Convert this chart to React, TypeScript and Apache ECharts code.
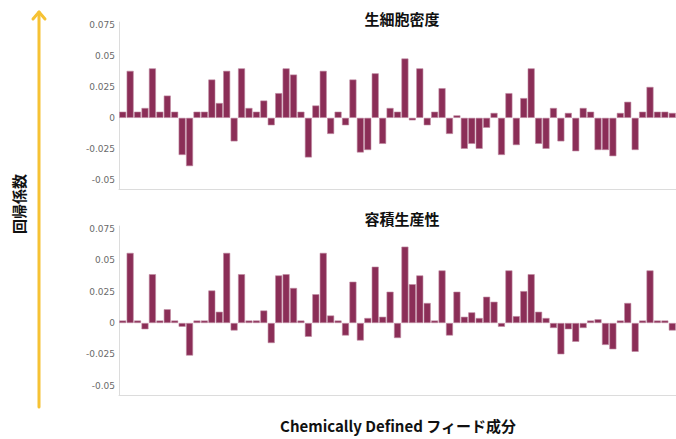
import React, { useEffect, useRef } from "react";
import * as echarts from "echarts";

// Regression coefficients per chemically defined feed component
const cellDensity = [
  0.005, 0.038, 0.005, 0.008, 0.04, 0.005, 0.018, 0.005, -0.03, -0.039,
  0.005, 0.005, 0.031, 0.012, 0.038, -0.019, 0.04, 0.008, 0.005, 0.014,
  -0.006, 0.02, 0.04, 0.035, 0.005, -0.032, 0.01, 0.038, -0.013, 0.005,
  -0.006, 0.031, -0.028, -0.026, 0.036, -0.021, 0.008, 0.005, 0.048, -0.002,
  0.04, -0.006, 0.005, 0.024, -0.013, 0.002, -0.025, -0.021, -0.025, -0.008,
  0.004, -0.03, 0.02, -0.022, 0.016, 0.04, -0.021, -0.025, 0.008, -0.019,
  0.004, -0.027, 0.008, 0.005, -0.026, -0.026, -0.031, 0.004, 0.013, -0.026,
  0.005, 0.025, 0.005, 0.005, 0.004,
];

const productivity = [
  0.002, 0.056, 0.002, -0.005, 0.039, 0.002, 0.011, 0.002, -0.003, -0.026,
  0.002, 0.002, 0.026, 0.009, 0.056, -0.006, 0.039, 0.002, 0.002, 0.01,
  -0.016, 0.038, 0.039, 0.028, 0.002, -0.011, 0.023, 0.056, 0.006, 0.002,
  -0.01, 0.033, -0.014, 0.004, 0.045, 0.005, 0.025, -0.012, 0.061, 0.031,
  0.038, 0.016, 0.002, 0.042, -0.01, 0.025, 0.005, 0.0085, 0.004, 0.021,
  0.017, -0.003, 0.042, 0.0055, 0.0255, 0.039, 0.009, 0.004, -0.004, -0.025,
  -0.005, -0.015, -0.004, 0.002, 0.003, -0.0175, -0.021, 0.002, 0.016, -0.023,
  0.002, 0.042, 0.002, 0.002, -0.006,
];

const components = cellDensity.map((_, i) => `CD-${i + 1}`);
const yTicks = [-0.05, -0.025, 0, 0.025, 0.05, 0.075];
const panelTitles = ["生細胞密度", "容積生産性"];
const xTitle = "Chemically Defined フィード成分";
const yTitle = "回帰係数";

const BAR = "#8b2e57";
const AXIS = "#dcdcdc";
const ARROW = "#f6c234";
const CJK = "'Noto Sans CJK JP', 'Noto Sans', sans-serif";

const grids = [
  { left: 119, right: 0, top: 22, height: 167 },
  { left: 119, right: 0, top: 226, height: 169 },
];

function tickText(v: number): string {
  const hit = yTicks.find((t) => Math.abs(t - v) < 1e-6);
  if (hit === undefined) return "";
  return String(Math.round(hit * 1000) / 1000);
}

export default function App() {
  const ref = useRef<HTMLDivElement | null>(null);

  useEffect(() => {
    if (!ref.current) return;
    const chart = echarts.init(ref.current, undefined, { renderer: "svg" });
    const seriesData = [cellDensity, productivity];

    chart.setOption({
      animation: false,
      backgroundColor: "#ffffff",
      grid: grids,
      xAxis: grids.map((_, i) => ({
        type: "category",
        gridIndex: i,
        data: components,
        axisLine: { show: true, onZero: false, lineStyle: { color: AXIS, width: 1 } },
        axisTick: { show: false },
        axisLabel: { show: false },
        splitLine: { show: false },
      })),
      yAxis: grids.map((_, i) => ({
        type: "value",
        gridIndex: i,
        min: -0.0575,
        max: 0.0775,
        interval: 0.0025,
        axisLine: { show: true, lineStyle: { color: AXIS, width: 1 } },
        axisTick: { show: false },
        splitLine: { show: false },
        axisLabel: {
          show: true,
          margin: 4,
          fontFamily: "'DejaVu Sans', sans-serif",
          fontSize: 9,
          color: "#6a6a6a",
          formatter: (v: number) => tickText(v),
        },
      })),
      series: seriesData.map((data, i) => ({
        type: "bar",
        xAxisIndex: i,
        yAxisIndex: i,
        data,
        barCategoryGap: "6%",
        itemStyle: { color: BAR, borderColor: "#c08aa1", borderWidth: 0.6 },
      })),
      graphic: [
        {
          type: "line",
          shape: { x1: 39, y1: 407, x2: 39, y2: 12 },
          style: { stroke: ARROW, lineWidth: 3, lineCap: "round" },
        },
        {
          type: "polyline",
          shape: { points: [[33, 19], [39, 12], [45, 19]] },
          style: { stroke: ARROW, lineWidth: 3, lineCap: "round", lineJoin: "round", fill: "none" },
        },
        {
          type: "text",
          x: 18,
          y: 204,
          rotation: Math.PI / 2,
          style: {
            text: yTitle,
            fontFamily: CJK,
            fontSize: 15,
            fontWeight: "bold",
            fill: "#111",
            align: "center",
            verticalAlign: "middle",
          },
        },
        ...panelTitles.map((t, i) => ({
          type: "text",
          x: 402,
          y: i === 0 ? 18 : 218,
          style: {
            text: t,
            fontFamily: CJK,
            fontSize: 15,
            fontWeight: "bold",
            fill: "#111",
            align: "center",
            verticalAlign: "middle",
          },
        })),
        {
          type: "text",
          x: 398,
          y: 425,
          style: {
            text: xTitle,
            fontFamily: CJK,
            fontSize: 15,
            fontWeight: "bold",
            fill: "#111",
            align: "center",
            verticalAlign: "middle",
          },
        },
      ],
    });

    return () => chart.dispose();
  }, []);

  return (
    <div
      ref={ref}
      style={{ position: "fixed", left: 0, top: 0, width: 676, height: 439, background: "#fff" }}
    />
  );
}
